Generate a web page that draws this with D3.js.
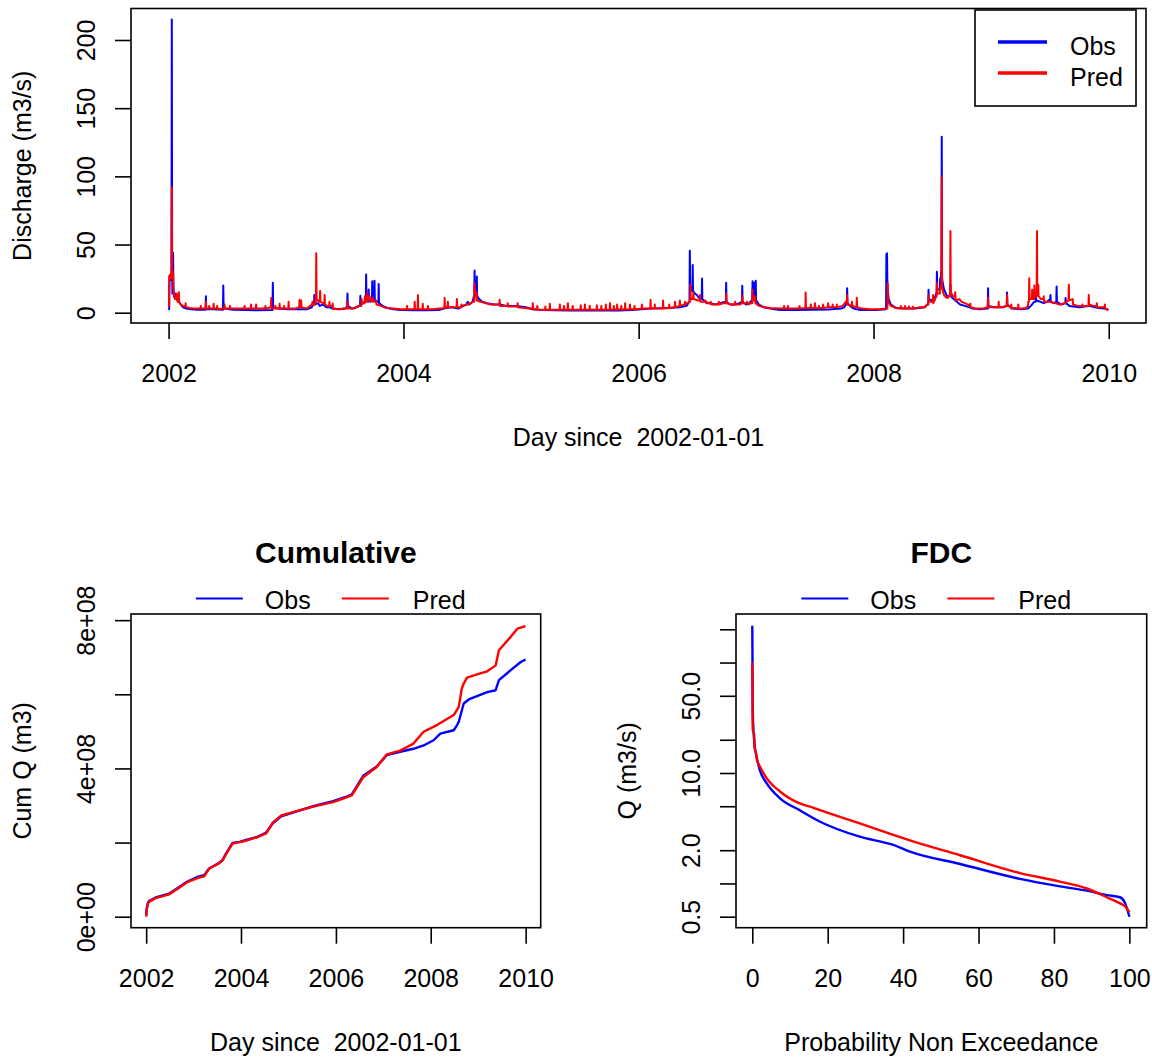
<!DOCTYPE html>
<html><head><meta charset="utf-8">
<script src="https://cdn.jsdelivr.net/npm/d3@7"></script>
<style>
body{margin:0;background:#fff}
text{font-family:"Liberation Sans",Arial,sans-serif;fill:#000}
</style>
</head><body>
<svg id="c" width="1152" height="1061" style="background:#fff"></svg>
<script>
// ---- Data (day index 0 = 2002-01-01) ----
const seriesNames = ["Obs", "Pred"];
const seriesColors = ["#0000ff", "#ff0000"];

// Daily discharge readings (m3/s): [day, value]
const obsQ = [[0,2],[2,3],[3,26],[7,24],[9,30],[10,215],[11,38],[12,14],[13,15],[14,44],[15,16],[17,12],[19,11],[20,14],[21,10],[24,10],[27,9],[28,12],[29,8],[32,8],[38,6],[45,4],[55,3],[70,2.5],[90,2.2],[115,2.2],[116,12],[117,2.5],[140,2.5],[169,2.2],[170,20],[171,3],[200,2.2],[240,2],[270,1.8],[323,2],[324,22],[325,4],[340,3],[370,2.5],[400,2.5],[430,2.5],[445,4],[450,6],[452,6],[453,13],[454,6],[465,7],[470,5],[480,6],[490,4],[500,4],[510,3],[530,2.5],[550,3],[555,5],[556,14],[557,5],[570,3],[585,4],[594,5],[595,5],[596,12.4],[597,6],[605,7],[612,9],[613,9],[614,28],[615,10],[620,8],[621,8],[622,17],[623,9],[628,8],[631,10],[632,10],[633,23],[634,9],[638,9],[639,9],[640,23.4],[641,9],[648,8],[652,8],[653,21],[654,7],[665,5],[680,3.5],[700,2.5],[720,2],[760,1.8],[800,1.8],[840,2],[860,3.5],[880,4],[900,3],[925,6],[930,8],[935,6],[945,8],[949,12],[950,12],[951,31],[952,15],[956,12],[957,12],[958,26.5],[959,12],[965,10],[975,8],[990,7],[1010,6],[1030,6],[1050,5],[1080,5],[1110,4],[1130,2.5],[1160,2],[1200,1.8],[1250,1.6],[1300,1.6],[1350,1.6],[1400,1.7],[1440,2],[1470,2.5],[1500,3],[1550,3.5],[1590,4],[1610,5],[1618,8],[1619,8],[1620,45.5],[1621,20],[1625,16],[1628,16],[1629,35],[1630,16],[1636,14],[1642,13],[1648,11],[1655,10],[1657,10],[1658,25],[1659,10],[1668,8],[1680,7],[1700,6],[1715,7],[1730,8],[1732,8],[1733,22],[1734,8],[1745,6],[1760,6],[1775,7],[1781,8],[1782,8],[1783,19.7],[1784,8],[1795,6],[1805,7],[1812,9],[1814,9],[1815,23],[1816,10],[1819,10],[1820,22],[1821,10],[1824,10],[1825,23.5],[1826,9],[1835,6],[1850,4],[1870,3],[1900,2],[1950,2],[2000,2.2],[2050,2.3],[2090,3],[2100,4],[2105,6],[2108,6],[2109,18],[2110,7],[2118,5],[2130,3],[2150,2],[2200,2],[2229,2.5],[2230,3],[2231,43],[2233,43.6],[2234,20],[2238,10],[2245,6],[2260,3.5],[2290,3],[2320,3],[2350,4],[2358,6],[2361,6],[2362,16.8],[2363,10],[2372,9],[2380,10],[2386,14],[2387,14],[2388,30],[2389,17],[2392,17],[2397,17],[2398,25],[2400,25],[2401,30],[2402,30],[2403,129],[2404,25],[2410,17],[2416,14],[2422,11],[2428,13],[2429,13],[2430,20.5],[2431,12],[2440,10],[2450,8],[2460,6],[2475,5],[2500,3],[2520,2.5],[2546,3],[2547,18],[2548,5],[2565,4],[2590,4],[2605,5],[2606,14.8],[2607,6],[2620,3],[2650,2.5],[2670,3],[2680,5],[2690,8],[2695,8],[2696,10.8],[2697,9],[2710,8],[2720,7],[2730,8],[2740,10],[2741,13],[2742,8],[2752,7],[2759,8],[2760,19.2],[2761,8],[2775,6],[2787,7],[2788,10.8],[2789,7],[2800,5],[2830,4],[2860,5],[2890,3.5],[2910,3],[2921,2]];

const predQ = [[0,5],[1,5],[2,27],[5,28],[8,25],[9,25],[10,92],[11,30],[13,28],[14,30],[15,18],[17,13],[19,11],[22,10],[24,10],[25,14],[26,9],[30,8],[31,8],[32,15],[33,8],[38,6],[45,5],[52,4.5],[53,7],[54,4],[65,3.5],[80,3],[99,3],[100,5],[101,3],[115,3],[116,8],[117,3],[125,3],[126,5],[127,3],[139,3],[140,6.5],[141,3],[150,3],[151,5],[152,3],[160,2.8],[173,3],[174,6],[175,3],[190,3],[191,5],[192,3],[215,3],[235,3],[236,5],[237,3],[255,3],[256,6],[257,3],[271,3],[272,6],[273,3],[290,3],[300,3],[301,5],[302,3],[318,4],[319,10.7],[320,3.5],[331,3],[332,5],[333,3],[344,3],[345,6.5],[346,3],[358,3],[359,5],[360,3],[372,3],[373,8],[374,3],[395,3],[405,4],[406,4],[407,9.5],[408,4],[411,4],[412,9],[413,4],[430,3],[445,6],[446,6],[447,8],[450,6],[456,6],[457,12],[458,8],[459,43.6],[460,10],[468,8],[470,8],[471,16],[472,8],[480,7],[484,7],[485,13],[486,6],[492,5],[499,5],[500,8],[501,5],[509,5],[510,6.8],[511,3],[530,2.5],[545,3],[555,3],[556,8],[557,3],[575,3],[590,5],[599,5],[600,10],[601,7],[609,7],[610,12],[611,8],[617,8],[618,15],[619,9],[624,9],[625,12],[626,9],[634,9],[635,11],[636,8],[644,8],[645,9],[646,6],[660,5],[675,3.5],[700,3],[720,2.5],[740,2.5],[741,5],[742,2.5],[764,2.5],[765,8],[766,2.5],[774,2.5],[775,13],[776,2.5],[789,2.5],[790,6.6],[791,2.5],[805,2.5],[806,5],[807,2.5],[820,2.5],[840,3],[857,3],[858,10.7],[859,4],[867,4],[868,8],[869,4],[880,4],[895,4],[896,10],[897,4],[909,4],[910,6],[911,5],[930,6],[945,8],[950,8],[951,21.7],[953,12],[956,12],[957,15],[958,9],[970,8],[985,7],[1000,6],[1015,6],[1028,6],[1029,9.5],[1030,5],[1045,5],[1053,5],[1054,7],[1055,4.5],[1070,4.5],[1084,4.5],[1085,7],[1086,4],[1105,3.5],[1120,3],[1131,3],[1132,7],[1133,2.5],[1145,2.5],[1146,5],[1147,2.3],[1160,2.2],[1170,2.2],[1171,4.5],[1172,2.2],[1184,2.2],[1185,6.5],[1186,2.2],[1200,2.2],[1215,2.2],[1216,6],[1217,2.2],[1228,2.2],[1229,5],[1230,2.2],[1240,2.2],[1241,7],[1242,2.2],[1255,2.2],[1256,5],[1257,2.2],[1270,2.2],[1280,2.2],[1281,5.5],[1282,2.2],[1293,2.2],[1294,6],[1295,2.2],[1308,2.2],[1309,5],[1310,2.2],[1320,2.2],[1330,2.2],[1331,5.5],[1332,2.2],[1344,2.2],[1345,5],[1346,2.2],[1358,2.2],[1359,6],[1360,2.2],[1371,2.2],[1372,7],[1373,2.2],[1383,2.3],[1384,5],[1385,2.3],[1393,2.3],[1394,6],[1395,2.3],[1406,2.4],[1407,5],[1408,2.4],[1418,2.4],[1419,7],[1420,2.4],[1433,2.5],[1434,6],[1435,2.5],[1447,2.6],[1448,5],[1449,2.6],[1460,2.8],[1470,3],[1471,6],[1472,3],[1480,3],[1497,3],[1498,9.5],[1499,3],[1510,3],[1511,6],[1512,3],[1520,3],[1536,3],[1537,9],[1538,3],[1555,3.5],[1556,6],[1557,3.5],[1573,4],[1574,8],[1575,4],[1588,5],[1589,9],[1590,5],[1604,6],[1605,8],[1606,6],[1618,8],[1621,8],[1622,20.5],[1623,10],[1630,10],[1631,15],[1632,10],[1645,9],[1651,9],[1652,13],[1653,8],[1667,8],[1668,9],[1671,7],[1684,7],[1685,8],[1688,6],[1700,6],[1709,6],[1710,8],[1711,6],[1725,7],[1732,7],[1733,14],[1734,7],[1750,6],[1760,6],[1761,8],[1762,6],[1775,6],[1782,7],[1783,12.5],[1784,7],[1797,7],[1798,8],[1801,6],[1810,7],[1814,7],[1815,16.8],[1816,9],[1822,9],[1823,12],[1824,7],[1835,5],[1850,4],[1870,3.5],[1900,3],[1912,3],[1913,5],[1914,3],[1924,3],[1925,5],[1926,3],[1950,3],[1960,3],[1961,5],[1962,3],[1979,3.5],[1980,14.8],[1981,3.5],[1995,3.5],[1996,6],[1997,3.5],[2008,3.5],[2009,7],[2010,3.5],[2020,3.5],[2021,5],[2022,3.5],[2033,3.5],[2034,6],[2035,3.5],[2049,4],[2050,7],[2051,4],[2063,4],[2064,6],[2065,4],[2076,4],[2077,6],[2078,4],[2095,5],[2105,8],[2108,8],[2109,13],[2110,6],[2123,5],[2124,8],[2125,5],[2138,4],[2139,11],[2140,4],[2155,3],[2180,2.5],[2210,2.5],[2230,3],[2234,3],[2235,21.7],[2236,8],[2245,5],[2260,3.5],[2275,3],[2276,5],[2277,3],[2288,3],[2289,5],[2290,3],[2300,3],[2301,4.5],[2302,3],[2313,3],[2314,4.5],[2315,3],[2336,4],[2350,4],[2358,6],[2361,6],[2362,13],[2363,8],[2375,8],[2376,13],[2377,7],[2386,12],[2387,12],[2388,21.7],[2389,14],[2397,14],[2398,18],[2400,18],[2401,20],[2402,20],[2403,99.7],[2404,18],[2410,13],[2418,11],[2425,12],[2429,12],[2430,60],[2431,15],[2438,12],[2444,12],[2445,15],[2446,9],[2458,10],[2465,8],[2475,7],[2491,5],[2492,6.6],[2493,4],[2510,3],[2530,3],[2546,4],[2547,11],[2548,4],[2565,4],[2579,4],[2580,8],[2581,4],[2595,4],[2605,5],[2606,13],[2607,5],[2618,4],[2619,6],[2620,3.5],[2630,3.5],[2640,3],[2641,6],[2642,3],[2650,3],[2665,3.5],[2671,5],[2672,8],[2674,8],[2675,25.3],[2676,10],[2683,10],[2684,16.8],[2685,10],[2690,10],[2691,20],[2692,12],[2698,12],[2699,60],[2700,15],[2702,15],[2703,20.5],[2704,12],[2712,10],[2719,10],[2720,12],[2721,8],[2740,8],[2755,7],[2770,6],[2785,7],[2797,9],[2798,20.5],[2799,9],[2810,10],[2811,6],[2825,5],[2839,5],[2840,6],[2841,5],[2850,5],[2859,5],[2860,13],[2861,6],[2875,5],[2884,5],[2885,7],[2886,4],[2900,4],[2909,4],[2910,6],[2911,3],[2921,2]];

// Year ticks
const yearTickDays = [0, 730, 1461, 2191, 2922];
const yearTickLabels = ["2002", "2004", "2006", "2008", "2010"];
const dischargeTicks = [0, 50, 100, 150, 200];

// Cumulative volume readings (m3): [day, value]
const cumObs = [[0,0.03e8],[3,0.2e8],[12,0.36e8],[21,0.42e8],[73,0.52e8],[176,0.62e8],[317,0.95e8],[400,1.08e8],[446,1.12e8],[485,1.30e8],[560,1.45e8],[588,1.53e8],[614,1.70e8],[665,1.99e8],[720,2.02e8],[769,2.07e8],[860,2.16e8],[924,2.27e8],[975,2.52e8],[1040,2.71e8],[1130,2.81e8],[1285,2.98e8],[1439,3.12e8],[1543,3.24e8],[1582,3.29e8],[1671,3.80e8],[1775,4.05e8],[1853,4.36e8],[1955,4.45e8],[2058,4.53e8],[2136,4.62e8],[2213,4.76e8],[2265,4.94e8],[2368,5.03e8],[2394,5.17e8],[2407,5.26e8],[2445,5.75e8],[2484,5.86e8],[2626,6.06e8],[2691,6.11e8],[2716,6.38e8],[2807,6.65e8],[2884,6.87e8],[2921,6.94e8]];
const cumPred = [[0,0],[3,0.15e8],[12,0.33e8],[21,0.40e8],[73,0.50e8],[176,0.60e8],[317,0.93e8],[400,1.05e8],[446,1.09e8],[485,1.30e8],[560,1.44e8],[588,1.52e8],[614,1.68e8],[665,1.97e8],[720,2.01e8],[769,2.05e8],[860,2.15e8],[924,2.25e8],[975,2.54e8],[1040,2.73e8],[1130,2.82e8],[1285,2.97e8],[1439,3.09e8],[1543,3.22e8],[1582,3.27e8],[1671,3.76e8],[1775,4.04e8],[1853,4.38e8],[1955,4.48e8],[2058,4.67e8],[2136,4.99e8],[2239,5.17e8],[2300,5.30e8],[2368,5.44e8],[2407,5.66e8],[2430,6.15e8],[2445,6.29e8],[2471,6.45e8],[2560,6.55e8],[2626,6.62e8],[2691,6.78e8],[2716,7.19e8],[2807,7.55e8],[2858,7.77e8],[2921,7.84e8]];
const cumTicks = [0, 2e8, 4e8, 6e8, 8e8];
const cumTickLabels = ["0e+00", "", "4e+08", "", "8e+08"];

// Flow duration curve readings: [probability %, Q m3/s]
const fdcObs = [[0,215],[0.04,129],[0.08,60],[0.15,35],[0.3,25],[0.6,18],[1,14.9],[2,10.6],[3.8,8.1],[7.35,5.9],[12.6,4.6],[18,3.62],[28.5,2.65],[37.4,2.23],[41.8,1.94],[55.1,1.5],[71,1.1],[81.6,0.94],[88.7,0.86],[94,0.785],[97.5,0.75],[98.9,0.66],[100,0.5]];
const fdcPred = [[0,100],[0.04,60],[0.08,30],[0.12,25],[0.5,22],[0.6,17],[1,15],[1.2,13.3],[2,11.5],[3.8,9],[7.35,6.8],[12.6,5.3],[15.3,4.95],[19.7,4.4],[28.5,3.5],[37.4,2.75],[41.8,2.45],[55.1,1.8],[71,1.24],[81.6,1.04],[88.7,0.9],[94,0.75],[97.5,0.66],[98.9,0.62],[100,0.55]];
const fdcYTicks = [0.5, 1, 2, 5, 10, 20, 50, 100, 200];
const fdcYTickLabels = ["0.5", "", "2.0", "", "10.0", "", "50.0", "", ""];
const fdcXTicks = [0, 20, 40, 60, 80, 100];

// ---- Drawing ----
const svg = d3.select("#c");
const FS = 25;

function frame(box, x, y, xTicks, xLabels, yTicks, yLabels, xTitle, yTitle) {
  const g = svg.append("g");
  const ax = g.append("g").attr("transform", `translate(0,${box.b})`)
    .call(d3.axisBottom(x).tickValues(xTicks).tickSize(16)
      .tickFormat((d, i) => xLabels[i]));
  ax.select(".domain").remove();
  ax.selectAll("line").attr("stroke", "#000").attr("stroke-width", 1.6);
  ax.selectAll("text").attr("y", 59).attr("dy", null)
    .attr("font-size", FS).attr("fill", "#000")
    .style("font-family", '"Liberation Sans", Arial, sans-serif');
  const ay = g.append("g").attr("transform", `translate(${box.l},0)`)
    .call(d3.axisLeft(y).tickValues(yTicks).tickSize(16)
      .tickFormat((d, i) => yLabels[i]));
  ay.select(".domain").remove();
  ay.selectAll("line").attr("stroke", "#000").attr("stroke-width", 1.6);
  ay.selectAll("text").attr("x", null).attr("dy", null)
    .attr("transform", "translate(-36,0) rotate(-90)")
    .attr("text-anchor", "middle")
    .attr("font-size", FS).attr("fill", "#000")
    .style("font-family", '"Liberation Sans", Arial, sans-serif');
  g.append("rect").attr("x", box.l).attr("y", box.t)
    .attr("width", box.r - box.l).attr("height", box.b - box.t)
    .attr("fill", "none").attr("stroke", "#000").attr("stroke-width", 1.6);
  g.append("text").attr("x", (box.l + box.r) / 2).attr("y", box.b + 123)
    .attr("text-anchor", "middle").attr("font-size", FS)
    .style("white-space", "pre").attr("xml:space", "preserve").text(xTitle);
  g.append("text")
    .attr("transform", `translate(${box.l - 100},${(box.t + box.b) / 2}) rotate(-90)`)
    .attr("text-anchor", "middle").attr("font-size", FS).text(yTitle);
  return g;
}

function drawLines(g, x, y, seriesList, width, curve) {
  const line = d3.line().x(d => x(d[0])).y(d => y(d[1]));
  if (curve) line.curve(curve);
  seriesList.forEach((s, i) => {
    g.append("path").datum(s).attr("d", line)
      .attr("fill", "none").attr("stroke", seriesColors[i])
      .attr("stroke-width", width).attr("stroke-linejoin", "round");
  });
}

function inlineLegend(cx) {
  const g = svg.append("g");
  const offs = [[-140, -71], [6, 77]];
  seriesNames.forEach((n, i) => {
    g.append("line").attr("x1", cx + offs[i][0]).attr("x2", cx + offs[i][0] + 47)
      .attr("y1", 598.5).attr("y2", 598.5)
      .attr("stroke", seriesColors[i]).attr("stroke-width", 1.8);
    g.append("text").attr("x", cx + offs[i][1]).attr("y", 608.5)
      .attr("font-size", FS).text(n);
  });
}

// Panel 1: time series
const b1 = {l: 131, r: 1146, t: 8.5, b: 323};
const x1 = d3.scaleLinear().domain([-116.84, 3037.84]).range([b1.l, b1.r]);
const y1 = d3.scaleLinear().domain([-7.55, 223.1]).range([b1.b, b1.t]);
const g1 = frame(b1, x1, y1, yearTickDays, yearTickLabels, dischargeTicks,
  dischargeTicks.map(String), "Day since  2002-01-01", "Discharge (m3/s)");
drawLines(g1, x1, y1, [obsQ, predQ], 2);
const lg = svg.append("g");
lg.append("rect").attr("x", 975).attr("y", 10).attr("width", 161).attr("height", 96)
  .attr("fill", "#fff").attr("stroke", "#000").attr("stroke-width", 1.6);
seriesNames.forEach((n, i) => {
  const yy = 42 + i * 31;
  lg.append("line").attr("x1", 998).attr("x2", 1047).attr("y1", yy).attr("y2", yy)
    .attr("stroke", seriesColors[i]).attr("stroke-width", 3.3);
  lg.append("text").attr("x", 1070).attr("y", yy + 12.5).attr("font-size", FS).text(n);
});

// Panel 2: cumulative
const b2 = {l: 131, r: 540.7, t: 614, b: 927.7};
const x2 = d3.scaleLinear().domain([-116.84, 3037.84]).range([b2.l, b2.r]);
const y2 = d3.scaleLinear().domain([-0.2966e8, 8.166e8]).range([b2.b, b2.t]);
const g2 = frame(b2, x2, y2, yearTickDays, yearTickLabels, cumTicks, cumTickLabels,
  "Day since  2002-01-01", "Cum Q (m3)");
drawLines(g2, x2, y2, [cumObs, cumPred], 2.4);
svg.append("text").attr("x", (b2.l + b2.r) / 2).attr("y", 563)
  .attr("text-anchor", "middle").attr("font-size", 30).attr("font-weight", "bold").text("Cumulative");
inlineLegend((b2.l + b2.r) / 2);

// Panel 3: FDC
const b3 = {l: 736, r: 1146.7, t: 614, b: 927.7};
const x3 = d3.scaleLinear().domain([-4.32, 104.6]).range([b3.l, b3.r]);
const y3 = d3.scaleLog().domain([0.3975, 275.1]).range([b3.b, b3.t]);
const g3 = frame(b3, x3, y3, fdcXTicks, fdcXTicks.map(String), fdcYTicks, fdcYTickLabels,
  "Probability Non Exceedance", "Q (m3/s)");
drawLines(g3, x3, y3, [fdcObs, fdcPred], 2.4, d3.curveMonotoneX);
svg.append("text").attr("x", (b3.l + b3.r) / 2).attr("y", 563)
  .attr("text-anchor", "middle").attr("font-size", 30).attr("font-weight", "bold").text("FDC");
inlineLegend((b3.l + b3.r) / 2);
</script>
</body></html>
